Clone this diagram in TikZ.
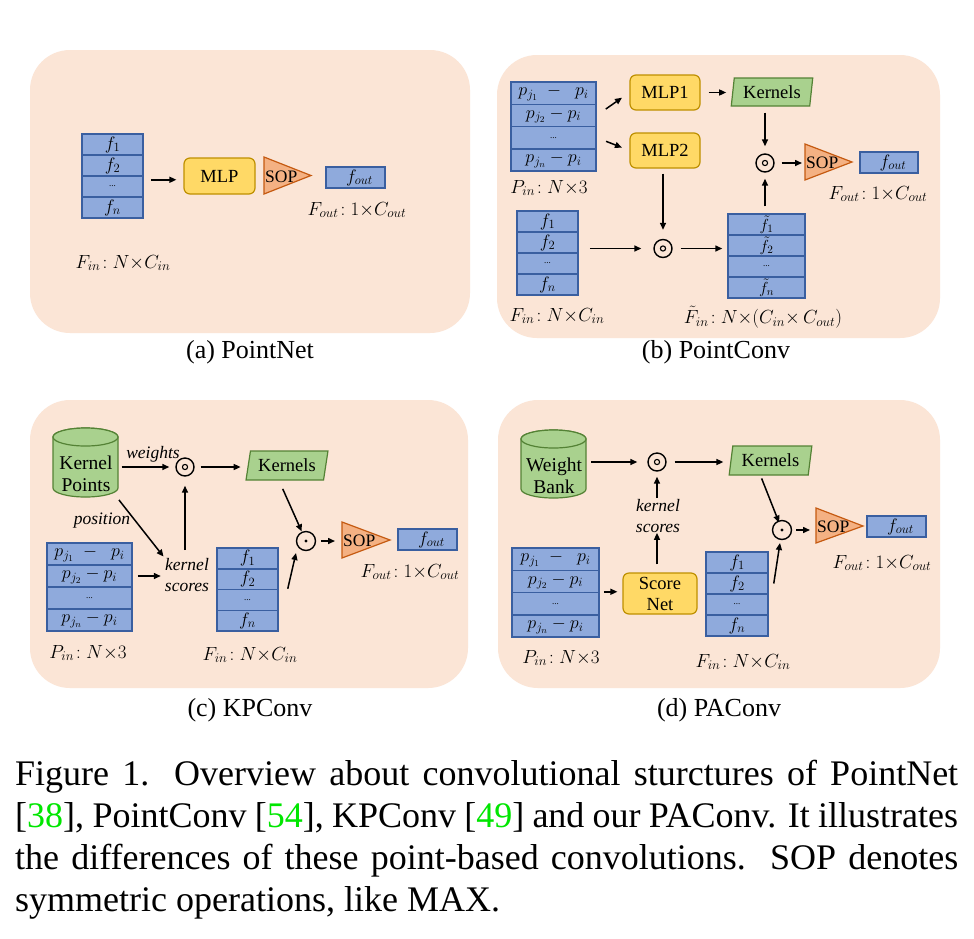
\RequirePackage{fix-cm}
\documentclass[tikz,border=0pt]{standalone}
\usepackage{fontspec}
\setmainfont{Liberation Serif}
\usetikzlibrary{arrows.meta,shapes.geometric}
\definecolor{panelbg}{HTML}{FBE5D6}
\definecolor{cellfill}{HTML}{8FAADC}
\definecolor{celldraw}{HTML}{3A5FA0}
\definecolor{mlpfill}{HTML}{FFD966}
\definecolor{mlpdraw}{HTML}{BF9000}
\definecolor{kfill}{HTML}{A9D18E}
\definecolor{kdraw}{HTML}{548235}
\definecolor{sopfill}{HTML}{F4B183}
\definecolor{sopdraw}{HTML}{C55A11}
\definecolor{refgreen}{RGB}{0,230,0}
\newcommand{\rowdots}{{\fontsize{9}{9}\selectfont ...}}
\tikzset{
 panel/.style={fill=panelbg, rounded corners=40pt},
 cell/.style={draw=celldraw, fill=cellfill, line width=1.5pt, inner sep=0pt, font=\fontsize{18}{20}\selectfont},
 mlp/.style={draw=mlpdraw, fill=mlpfill, line width=1.2pt, rounded corners=6pt, inner sep=0pt, align=center, font=\fontsize{18.5}{21}\selectfont},
 kern/.style={trapezium, trapezium stretches=true, draw=kdraw, fill=kfill, line width=1.2pt, inner sep=0pt, font=\fontsize{18.5}{21}\selectfont},
 soptri/.style={draw=sopdraw, fill=sopfill, line width=1.2pt, line join=miter},
 soptext/.style={inner sep=1pt, anchor=west, font=\fontsize{17.5}{20}\selectfont},
 lab/.style={inner sep=0pt, font=\fontsize{19}{22}\selectfont},
 itlab/.style={inner sep=0pt, align=center, font=\fontsize{17.5}{21}\selectfont\itshape},
 subcap/.style={inner sep=0pt, font=\fontsize{26}{30}\selectfont},
 arr/.style={-{Triangle[length=7pt,width=6pt]}, line width=1.5pt},
 odotr/.style={circle, draw, line width=1.4pt, minimum size=18pt, inner sep=0pt,
   path picture={\draw[line width=1.1pt] (path picture bounding box.center) circle (2.6pt);}},
 odotd/.style={circle, draw, line width=1.4pt, minimum size=19pt, inner sep=0pt,
   path picture={\fill (path picture bounding box.center) circle (1.6pt);}},
 cyl/.style={draw=kdraw, fill=kfill, line width=1.2pt},
 cyltext/.style={inner sep=0pt, align=center, font=\fontsize{19.5}{22}\selectfont},
 captext/.style={inner sep=0pt, text width=943pt, align=justify, font=\fontsize{36}{42}\selectfont},
}
\begin{document}
\begin{tikzpicture}[x=1pt,y=-1pt]
\useasboundingbox (0,0) rectangle (974,938);
\fill[white] (0,0) rectangle (974,938);

% ================= (a) PointNet =================
\fill[panel] (30,50) rectangle (470,333);
\foreach \i/\t in {1/{$f_1$},2/{$f_2$},3/{\rowdots},4/{$f_n$}}
  \node[cell, minimum width=61pt, minimum height=21pt] (a\i) at (112.5,{134+21*(\i-0.5)}) {\t};
\node[mlp, minimum width=71pt, minimum height=36pt] (mlpa) at (219.5,176) {MLP};
\draw[arr] ([xshift=7pt,yshift=-3pt]a2.south east) -- ([xshift=-7pt,yshift=-3pt]a2.south east -| mlpa.west);
\draw[soptri] (264,157) -- (311,175.5) -- (264,194) -- cycle;
\node[soptext] (sopa) at (264,177) {SOP};
\node[cell, minimum width=59pt, minimum height=21pt] (fouta) at (355.5,177.5) {\hspace*{8pt}$f_{out}$};
\node[lab] (fouta-l) at (357,210) {$F_{out}\!: 1{\times}C_{out}$};
\node[lab] (fina) at (123,263) {$F_{in}\!: N{\times}C_{in}$};
\node[subcap] (capa) at (250,352) {(a) PointNet};

% ================= (b) PointConv =================
\fill[panel] (497,55) rectangle (940,338);
\foreach \i/\t in {1/{$p_{j_1}\;-\;\;p_i$},2/{$p_{j_2}-p_i$},3/{\rowdots},4/{$p_{j_n}-p_i$}}
  \node[cell, minimum width=85pt, minimum height=22.25pt] (pb\i) at (553.5,{82+22.25*(\i-0.5)}) {\t};
\node[lab] (pinb) at (549,188) {$P_{in}\!: N{\times}3$};
\node[mlp, minimum width=70pt, minimum height=35pt] (mlp1) at (665,92.5) {MLP1};
\node[mlp, minimum width=70pt, minimum height=35pt] (mlp2) at (665,150.5) {MLP2};
\draw[arr, shorten <=11pt, shorten >=9pt] (pb2.east) -- (mlp1.west);
\draw[arr, shorten <=10pt, shorten >=8pt] (pb3.east) -- (mlp2.west);
\node[kern, trapezium left angle=80, trapezium right angle=100, minimum width=82pt, minimum height=28pt] (kb) at (772,92) {Kernels};
\draw[arr, shorten <=8pt, shorten >=6pt] (mlp1.east) -- (mlp1.east -| kb.west);
\node[odotr] (ob1) at (765,163) {};
\draw[arr, shorten <=6pt, shorten >=7pt] (kb.south -| ob1) -- (ob1.north);
\draw[soptri] (805,144) -- (852,162) -- (805,180) -- cycle;
\node[soptext] (sopb) at (805,163) {SOP};
\draw[arr, shorten <=7pt, shorten >=3pt] (ob1.east) -- (sopb.west |- ob1);
\node[cell, minimum width=58pt, minimum height=21pt] (foutb) at (889,162.5) {\hspace*{8pt}$f_{out}$};
\node[lab] (foutb-l) at (878,194) {$F_{out}\!: 1{\times}C_{out}$};
\foreach \i/\t in {1/{$f_1$},2/{$f_2$},3/{\rowdots},4/{$f_n$}}
  \node[cell, minimum width=61pt, minimum height=21pt] (fb\i) at (547.5,{211+21*(\i-0.5)}) {\t};
\node[odotr] (ob2) at (663,248.5) {};
\draw[arr, shorten <=11pt, shorten >=12pt] (fb2.south east |- ob2) -- (ob2.west);
\draw[arr, shorten <=5pt, shorten >=9pt] (mlp2.south -| ob2) -- (ob2.north);
\foreach \i/\t in {1/{$\tilde{f}_1$},2/{$\tilde{f}_2$},3/{\rowdots},4/{$\tilde{f}_n$}}
  \node[cell, minimum width=77pt, minimum height=21pt, font=\fontsize{16}{18}\selectfont] (ft\i) at (766.5,{214+21*(\i-0.5)}) {\t};
\draw[arr, shorten <=8pt, shorten >=5pt] (ob2.east) -- (ob2.east -| ft1.west);
\draw[arr, shorten <=7pt, shorten >=6pt] (ft1.north -| ob1) -- (ob1.south);
\node[lab] (finb) at (557,316) {$F_{in}\!: N{\times}C_{in}$};
\node[lab] (ftinb) at (763,317) {$\tilde{F}_{in}\!: N{\times}(C_{in}{\times}\,C_{out})$};
\node[subcap] (capb) at (716,352) {(b) PointConv};

% ================= (c) KPConv =================
\fill[panel] (30,400) rectangle (468,688);
\filldraw[cyl] (53,437) -- (53,488) arc[start angle=180,end angle=360,x radius=32.5pt,y radius=9pt] -- (118,437) arc[start angle=0,end angle=180,x radius=32.5pt,y radius=9pt] -- cycle;
\filldraw[cyl] (85.5,437) ellipse[x radius=32.5pt,y radius=9pt];
\node[cyltext] (kpt) at (86,474) {Kernel\\Points};
\node[itlab] (wc) at (153,454) {weights};
\node[odotr] (oc1) at (185,467) {};
\draw[arr, shorten <=9pt, shorten >=6pt] (kpt.east |- oc1) -- (oc1.west);
\node[kern, trapezium left angle=75, trapezium right angle=105, minimum width=82pt, minimum height=29pt] (kc) at (287,465.5) {Kernels};
\draw[arr, shorten <=6pt, shorten >=7pt] (oc1.east) -- (oc1.east -| kc.west);
\node[itlab] (posc) at (102,521) {position};
\node[itlab] (ksc) at (187,575) {kernel\\scores};
\draw[arr, shorten <=10pt, shorten >=2pt] (kpt.south east) -- (ksc.north west);
\foreach \i/\t in {1/{$p_{j_1}\;-\;\;p_i$},2/{$p_{j_2}-p_i$},3/{\rowdots},4/{$p_{j_n}-p_i$}}
  \node[cell, minimum width=85pt, minimum height=22pt] (pc\i) at (89.5,{543+22*(\i-0.5)}) {\t};
\draw[arr, shorten <=5pt, shorten >=4pt] (pc2.east) -- (pc2.east -| ksc.west);
\draw[arr, shorten <=8pt, shorten >=9pt] (ksc.north -| oc1) -- (oc1.south);
\foreach \i/\t in {1/{$f_1$},2/{$f_2$},3/{\rowdots},4/{$f_n$}}
  \node[cell, minimum width=61pt, minimum height=20.75pt] (fc\i) at (247.5,{548+20.75*(\i-0.5)}) {\t};
\node[odotd] (oc2) at (306,541) {};
\draw[arr, shorten <=9pt, shorten >=10.5pt] ([xshift=-8pt]kc.south) -- (oc2.center);
\draw[arr] ([xshift=9pt]fc3.north east) -- ([xshift=-10pt,yshift=-12pt]oc2.center);
\draw[soptri] (342,522) -- (390,540) -- (342,558) -- cycle;
\node[soptext] (sopc) at (342,541) {SOP};
\draw[arr, shorten <=5pt, shorten >=7pt] (oc2.east) -- (sopc.west |- oc2);
\node[cell, minimum width=59pt, minimum height=21pt] (foutc) at (427.5,539.5) {\hspace*{8pt}$f_{out}$};
\node[lab] (foutc-l) at (410,572) {$F_{out}\!: 1{\times}C_{out}$};
\node[lab] (pinc) at (88,653) {$P_{in}\!: N{\times}3$};
\node[lab] (finc) at (250,655) {$F_{in}\!: N{\times}C_{in}$};
\node[subcap] (capc) at (250,710) {(c) KPConv};

% ================= (d) PAConv =================
\fill[panel] (498,400) rectangle (940,688);
\filldraw[cyl] (521,439) -- (521,489) arc[start angle=180,end angle=360,x radius=32.5pt,y radius=9pt] -- (586,439) arc[start angle=0,end angle=180,x radius=32.5pt,y radius=9pt] -- cycle;
\filldraw[cyl] (553.5,439) ellipse[x radius=32.5pt,y radius=9pt];
\node[cyltext] (wbt) at (554,476) {Weight\\Bank};
\node[odotr] (od1) at (657,462) {};
\draw[arr, shorten <=9pt, shorten >=10pt] (wbt.east |- od1) -- (od1.west);
\node[kern, trapezium left angle=78, trapezium right angle=102, minimum width=83pt, minimum height=29pt] (kd) at (770.5,460.5) {Kernels};
\draw[arr, shorten <=8pt, shorten >=7pt] (od1.east) -- (od1.east -| kd.west);
\node[itlab] (ksd) at (658,516) {kernel\\scores};
\draw[arr, shorten <=1pt, shorten >=5pt] (ksd.north -| od1) -- (od1.south);
\foreach \i/\t in {1/{$p_{j_1}\;-\;\;p_i$},2/{$p_{j_2}-p_i$},3/{\rowdots},4/{$p_{j_n}-p_i$}}
  \node[cell, minimum width=87pt, minimum height=22.25pt] (pd\i) at (555.5,{548+22.25*(\i-0.5)}) {\t};
\node[mlp, minimum width=74pt, minimum height=41pt] (sn) at (660,593.5) {Score\\Net};
\draw[arr, shorten <=8pt, shorten >=0pt] (sn.north -| od1) -- (ksd.south -| od1);
\draw[arr, shorten <=4pt, shorten >=5pt] (pd3.north east) -- (pd3.north east -| sn.west);
\foreach \i/\t in {1/{$f_1$},2/{$f_2$},3/{\rowdots},4/{$f_n$}}
  \node[cell, minimum width=62pt, minimum height=21pt] (fd\i) at (737,{552+21*(\i-0.5)}) {\t};
\node[odotd] (od2) at (782,530) {};
\draw[arr, shorten <=3pt, shorten >=8pt] ([xshift=-10pt]kd.south) -- (od2.center);
\draw[arr] ([xshift=5pt]fd2.east) -- ([xshift=-2pt,yshift=-13pt]od2.center);
\draw[soptri] (816,508) -- (863,526) -- (816,543) -- cycle;
\node[soptext] (sopd) at (816,527) {SOP};
\draw[arr, shorten <=4pt, shorten >=6pt] (od2.east) -- (sopd.west |- od2);
\node[cell, minimum width=59pt, minimum height=21pt] (foutd) at (896.5,526.5) {\hspace*{8pt}$f_{out}$};
\node[lab] (foutd-l) at (882,563) {$F_{out}\!: 1{\times}C_{out}$};
\node[lab] (pind) at (561,658) {$P_{in}\!: N{\times}3$};
\node[lab] (find) at (743,662) {$F_{in}\!: N{\times}C_{in}$};
\node[subcap] (capd) at (719,710) {(d) PAConv};

% ================= caption =================
\node[captext, anchor=base west] (cap) at (15,785) {Figure 1. Overview about convolutional sturctures of PointNet\linebreak{}[\textcolor{refgreen}{38}], PointConv [\textcolor{refgreen}{54}], KPConv [\textcolor{refgreen}{49}] and our PAConv. It illustrates\linebreak{} the differences of these point-based convolutions.\ \ SOP denotes\linebreak{} symmetric operations, like MAX.};
\end{tikzpicture}
\end{document}
